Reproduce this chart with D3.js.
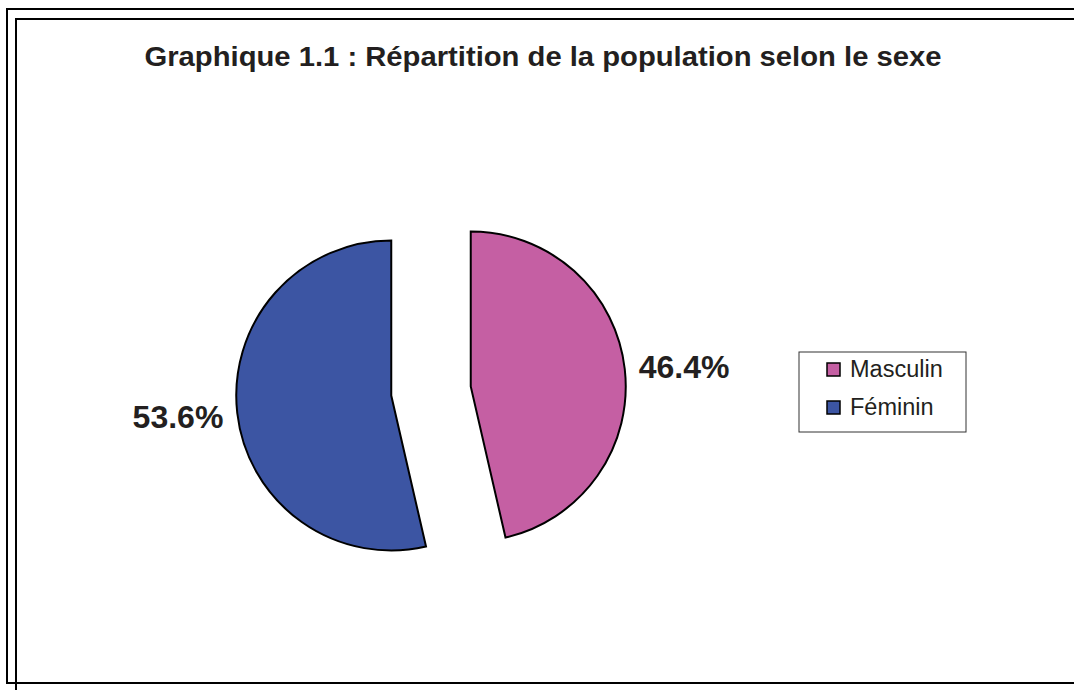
<!DOCTYPE html>
<html>
<head>
<meta charset="utf-8">
<script src="https://cdn.jsdelivr.net/npm/d3@7"></script>
<style>
  body { margin: 0; background: #fff; }
  svg { display: block; font-family: "Liberation Sans", Arial, sans-serif; }
</style>
</head>
<body>
<svg id="chart" width="1074" height="690"></svg>
<script>
'use strict';

// data
var categories = ['Masculin', 'Féminin'];
var shares = [46.4, 53.6];
var colors = ['#c55fa3', '#3c55a3'];
var title = 'Graphique 1.1 : Répartition de la population selon le sexe';

var svg = d3.select('#chart');

// double frame, cut by the page edges
svg.append('path')
    .attr('d', 'M1080,9 H7 V683 H1080')
    .attr('fill', 'none').attr('stroke', '#000').attr('stroke-width', 2);
svg.append('path')
    .attr('d', 'M1080,19 H16 V695')
    .attr('fill', 'none').attr('stroke', '#000').attr('stroke-width', 2);

svg.append('text')
    .attr('x', 543).attr('y', 66)
    .attr('text-anchor', 'middle')
    .attr('font-size', 27).attr('font-weight', 'bold')
    .attr('textLength', 797).attr('lengthAdjust', 'spacingAndGlyphs')
    .attr('fill', '#231f20')
    .text(title);

var cx = 431, cy = 391, r = 155, explode = 40;

var pie = d3.pie().sort(null).value(function (d) { return d; });
var arc = d3.arc().innerRadius(0).outerRadius(r);
var slices = pie(shares);

function dir(d) {
    var a = (d.startAngle + d.endAngle) / 2;
    return [Math.sin(a), -Math.cos(a)];
}

var g = svg.append('g').attr('transform', 'translate(' + cx + ',' + cy + ')');

g.selectAll('.slice')
    .data(slices)
  .enter().append('path')
    .attr('class', 'slice')
    .attr('transform', function (d) {
        var v = dir(d);
        return 'translate(' + v[0] * explode + ',' + v[1] * explode + ')';
    })
    .attr('d', arc)
    .attr('fill', function (d, i) { return colors[i]; })
    .attr('stroke', '#000')
    .attr('stroke-width', 2)
    .attr('stroke-linejoin', 'miter');

//labels outside each slice
g.selectAll('.lbl')
    .data(slices)
  .enter().append('text')
    .attr('class', 'lbl')
    .attr('x', function (d) { return dir(d)[0] * 209; })
    .attr('y', function (d) { return dir(d)[1] * 225 + 12; })
    .attr('text-anchor', function (d) { return dir(d)[0] > 0 ? 'start' : 'end'; })
    .attr('font-size', 32).attr('font-weight', 'bold')
    .attr('fill', '#231f20')
    .text(function (d) { return d.value.toFixed(1) + '%'; });

// legend
var legend = svg.append('g').attr('transform', 'translate(799,352)');
legend.append('rect')
    .attr('width', 167).attr('height', 80)
    .attr('fill', '#fff').attr('stroke', '#333').attr('stroke-width', 1);

var item = legend.selectAll('.item')
    .data(categories)
  .enter().append('g')
    .attr('class', 'item')
    .attr('transform', function (d, i) { return 'translate(28,' + (11 + i * 38) + ')'; });
item.append('rect')
    .attr('width', 13).attr('height', 13)
    .attr('fill', function (d, i) { return colors[i]; })
    .attr('stroke', '#000').attr('stroke-width', 1.5);
item.append('text')
    .attr('x', 23).attr('y', 13.5)
    .attr('font-size', 23.5)
    .attr('fill', '#231f20')
    .text(function (d) { return d; });
</script>
</body>
</html>
